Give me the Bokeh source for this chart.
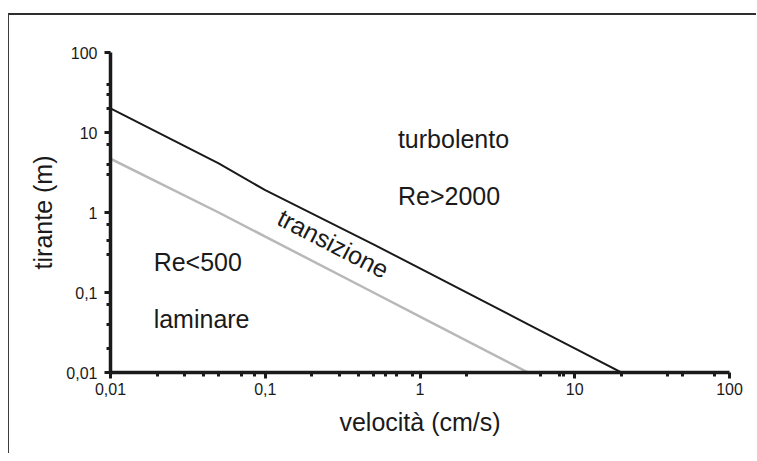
from bokeh.plotting import figure
from bokeh.models import Range1d, FixedTicker, Label
from bokeh.embed import file_html
from bokeh.resources import INLINE

# --- data ---
vel_turb = [0.01, 0.05, 0.1, 0.5, 1, 5, 10, 20]
tir_turb = [20, 4.1, 1.9, 0.4, 0.2, 0.04, 0.02, 0.01]
vel_lam = [0.01, 0.05, 0.1, 0.5, 1, 5]
tir_lam = [4.7, 1.0, 0.5, 0.1, 0.05, 0.01]

major_ticks = [0.01, 0.1, 1, 10, 100]
tick_labels = ["0,01", "0,1", "1", "10", "100"]
x_minor = [0.02, 0.03, 0.04, 0.05, 0.07, 0.085,
           0.2, 0.3, 0.4, 0.5, 0.6, 0.7, 0.9,
           2, 6, 8, 8.5,
           20, 40, 50, 80]
y_minor = [0.02, 0.04, 0.07,
           0.3, 0.45, 0.7,
           3, 4, 7,
           20, 30, 40]

region_text = ["turbolento", "Re>2000", "Re<500", "laminare"]
region_x = [0.72, 0.72, 0.019, 0.019]
region_y = [8.4, 1.62, 0.24, 0.047]
trans_text = "transizione"
trans_x = 0.275
trans_y = 0.41

FONT = "Liberation Sans"
INK = "#1a1a1a"

p = figure(width=748, height=440, x_axis_type="log", y_axis_type="log",
           x_range=Range1d(0.01, 100), y_range=Range1d(0.01, 100),
           output_backend="svg", toolbar_location=None,
           min_border_left=101, min_border_right=28,
           min_border_top=37, min_border_bottom=83)
# outer frame of the picture (only top and left edges are inside the window)
p.styles = {"margin-top": "13px", "margin-left": "8px",
            "border-top": "2px solid #2e2e2e",
            "border-left": "1px solid #3c3c3c"}
p.outline_line_color = None
p.xgrid.visible = False
p.ygrid.visible = False
p.background_fill_color = "white"
p.border_fill_color = "white"

p.line(vel_turb, tir_turb, line_color=INK, line_width=2)
p.line(vel_lam, tir_lam, line_color="#b8b8b8", line_width=2.5)

for ax, minor in ((p.xaxis[0], x_minor), (p.yaxis[0], y_minor)):
    ax.ticker = FixedTicker(ticks=major_ticks, minor_ticks=minor)
    ax.major_label_overrides = {t: l for t, l in zip(major_ticks, tick_labels)}
    ax.axis_line_width = 3.5
    ax.axis_line_color = INK
    ax.major_tick_line_width = 3
    ax.major_tick_line_color = INK
    ax.minor_tick_line_width = 3
    ax.minor_tick_line_color = INK
    ax.major_tick_in = 0
    ax.major_tick_out = 6
    ax.minor_tick_in = 0
    ax.minor_tick_out = 4
    ax.major_label_text_font = FONT
    ax.major_label_text_font_size = "16px"
    ax.major_label_text_color = INK
    ax.axis_label_text_font = FONT
    ax.axis_label_text_font_size = "25px"
    ax.axis_label_text_font_style = "normal"
    ax.axis_label_text_color = INK

p.xaxis.axis_label = "velocità (cm/s)"
p.yaxis.axis_label = "tirante (m)"
p.xaxis.major_label_standoff = 4
p.yaxis.major_label_standoff = 7
p.xaxis.axis_label_standoff = 10
p.yaxis.axis_label_standoff = 6

for t, x, y in zip(region_text, region_x, region_y):
    p.add_layout(Label(x=x, y=y, text=t, text_font=FONT, text_font_size="25px",
                       text_color=INK, text_baseline="alphabetic", text_align="left"))

p.add_layout(Label(x=trans_x, y=trans_y, text=trans_text, text_font=FONT,
                   text_font_size="25px", text_color=INK, angle=-0.477,
                   text_baseline="middle", text_align="center"))

open("out.html", "w").write(file_html(p, INLINE))
